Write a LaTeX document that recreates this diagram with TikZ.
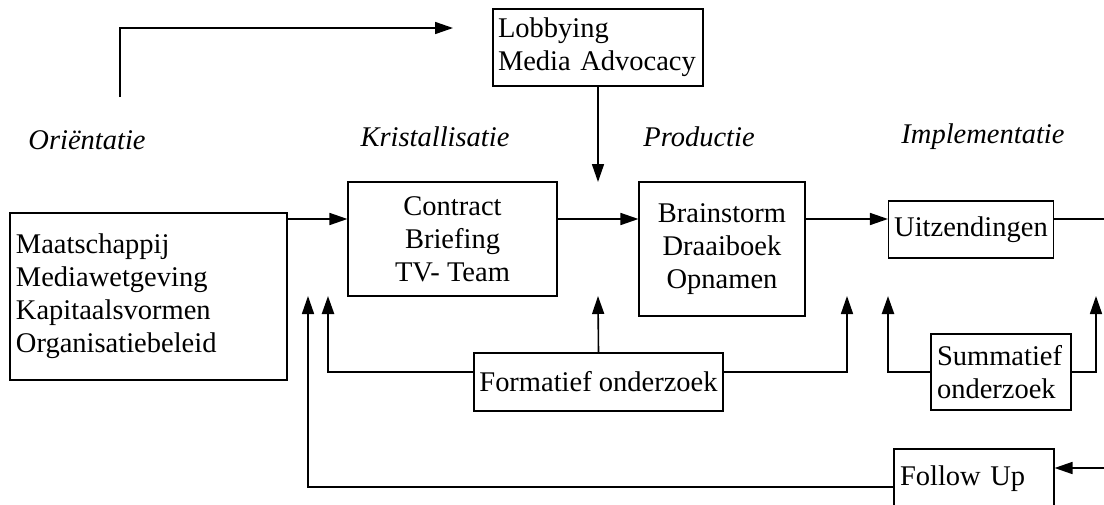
\documentclass[tikz,border=0pt]{standalone}
\usepackage{fontspec}
\setmainfont{Liberation Serif}
\usetikzlibrary{arrows.meta}
\begin{document}
\begin{tikzpicture}[x=1pt,y=-1pt,
  txt/.style={font=\fontsize{28.5}{33}\selectfont},
  boxc/.style={draw, line width=1.1pt, txt, inner sep=0pt, align=center},
  boxl/.style={draw, line width=1.1pt, txt, inner xsep=5pt, inner ysep=0pt, align=left},
  phase/.style={txt, font=\fontsize{28.5}{33}\selectfont\itshape, inner sep=0pt},
  arr/.style={line width=1.6pt, -{Triangle[length=18pt,width=12pt]}},
  ln/.style={line width=1.6pt},
  thk/.style={line width=2.4pt, -{Triangle[length=18pt,width=12pt]}}
]
\clip (0,0) rectangle (1104,504);
\fill[white] (0,0) rectangle (1104,504);

% phase labels
\node[phase] (p1) at (87,140) {Oriëntatie};
\node[phase] (p2) at (435,137) {Kristallisatie};
\node[phase] (p3) at (699,137) {Productie};
\node[phase] (p4) at (983,137) {Implementatie};

% boxes
\node[boxl, text width=200pt, minimum height=77pt] (lob) at (598,47.5) {\raisebox{-3pt}{Lobbying}\\\raisebox{-3pt}{Media Advocacy}};
\node[boxl, text width=265pt, minimum height=167pt, inner xsep=6pt] (ctx) at (148.5,296.5) {Maatschappij\\Mediawetgeving\\Kapitaalsvormen\\Organisatiebeleid};
\node[boxc, minimum width=209pt, minimum height=114pt] (con) at (452.5,239) {Contract\\Briefing\\TV- Team};
\node[boxc, minimum width=166pt, minimum height=134pt] (brn) at (722,249) {Brainstorm\\Draaiboek\\Opnamen};
\node[boxc, minimum width=165pt, minimum height=57pt] (uit) at (971,229.5) {Uitzendingen};
\node[boxc, minimum width=249pt, minimum height=58pt] (form) at (598.5,382) {Formatief onderzoek};
\node[boxl, text width=128pt, minimum height=76pt, inner xsep=6pt] (sum) at (1001,372) {Summatief\\onderzoek};
\node[boxl, text width=148pt, minimum height=60pt, inner xsep=6pt] (fol) at (974,479) {Follow Up};

% helper coordinates
\coordinate (row) at (0,219);
\coordinate (row2) at (0,372);
\coordinate (row3) at (0,487);
\coordinate (row4) at (0,468);
\coordinate (ts) at (120,97);
\coordinate (tt) at (453,28);
\coordinate (ld) at (598,182);
\coordinate (u1) at (308,296);
\coordinate (u2) at (328,296);
\coordinate (u3) at (598,296);
\coordinate (u4) at (847,296);
\coordinate (u5) at (888,296);
\coordinate (u6) at (1096,296);
\coordinate (re1) at (1108,219);
\coordinate (re2) at (1108,468);

% top arrow
\draw[arr] (ts) |- (tt);
\draw[arr] (lob.south) -- (ld);

% main row
\draw[arr] (ctx.east |- row) -- (con.west |- row);
\draw[arr] (con.east |- row) -- (brn.west |- row);
\draw[arr] (brn.east |- row) -- (uit.west |- row);
\draw[ln] (uit.east |- row) -- (re1);

% feedback
\draw[arr] (form.north) -- (u3);
\draw[thk] (form.west |- row2) -| (u2);
\draw[arr] (form.east |- row2) -| (u4);
\draw[thk] (sum.west) -| (u5);
\draw[arr] (sum.east) -| (u6);
\draw[arr] (fol.west |- row3) -| (u1);
\draw[arr] (re2) -- (fol.east |- row4);
\end{tikzpicture}
\end{document}
